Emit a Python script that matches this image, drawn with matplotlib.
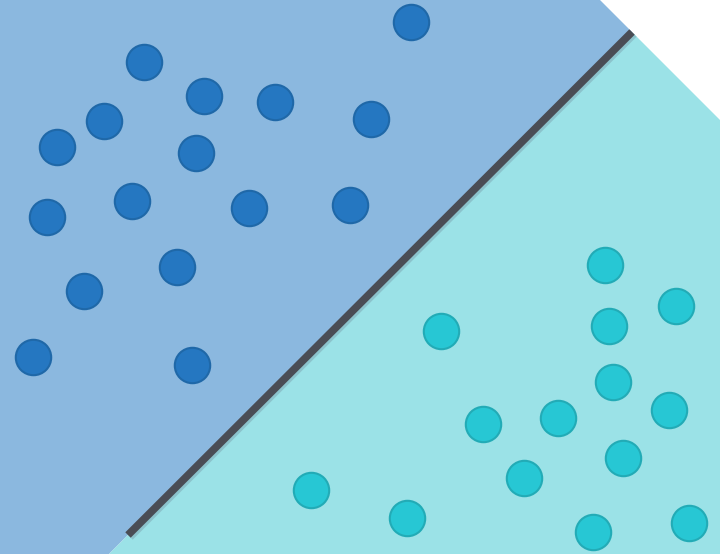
import matplotlib
matplotlib.use("Agg")
import matplotlib.pyplot as plt
from matplotlib.patches import Polygon

# point positions (pixel-like data units, y grows downward)
blue_x = [411, 144, 204, 275, 371, 104, 57, 196, 47, 132, 249, 350, 177, 84, 33, 192]
blue_y = [22, 62, 96, 102, 119, 121, 147, 153, 217, 201, 208, 205, 267, 291, 357, 365]
cyan_x = [605, 676, 441, 609, 613, 483, 558, 669, 623, 524, 311, 407, 593, 689]
cyan_y = [265, 306, 331, 326, 382, 424, 418, 410, 458, 478, 490, 518, 532, 523]

# separating line end points
line_x = [128, 632]
line_y = [535, 32]

W, H = 720, 554

fig = plt.figure(figsize=(7.2, 5.54), dpi=100)
ax = fig.add_axes([0, 0, 1, 1])
ax.set_xlim(0, W)
ax.set_ylim(H, 0)
ax.axis("off")

# regions either side of the line
blue_region = Polygon([(0, 0), (600, 0), (632, 32), (109, 554), (0, 554)],
                      closed=True, facecolor="#8bb8df", edgecolor="none", zorder=0)
cyan_region = Polygon([(632, 32), (720, 120), (720, 554), (109, 554)],
                      closed=True, facecolor="#9be2e7", edgecolor="none", zorder=0)
ax.add_patch(blue_region)
ax.add_patch(cyan_region)

# decision line with faint shadow
ax.plot([x + 1.5 for x in line_x], [y + 1.5 for y in line_y], color="#6f8a9a",
        linewidth=6.5, alpha=0.35, solid_capstyle="butt", zorder=1)
ax.plot(line_x, line_y, color="#4a4d55", linewidth=5.5, solid_capstyle="butt", zorder=2)

ax.scatter(blue_x, blue_y, s=650, color="#2577c1", edgecolors="#1f68a8",
           linewidths=1.5, zorder=3)
ax.scatter(cyan_x, cyan_y, s=650, color="#27c7d4", edgecolors="#22abb6",
           linewidths=1.5, zorder=3)

fig.savefig("out.png", dpi=100)
